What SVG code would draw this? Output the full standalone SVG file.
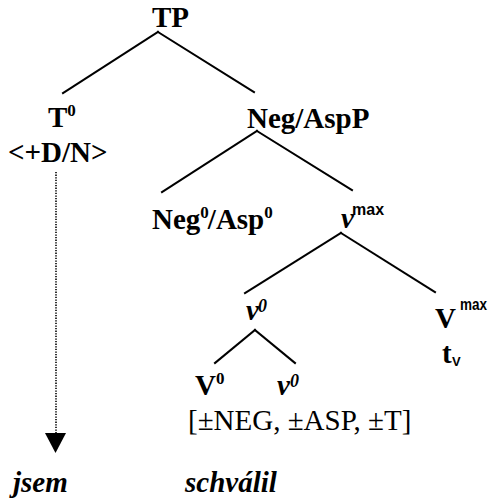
<svg xmlns="http://www.w3.org/2000/svg" width="492" height="502" viewBox="0 0 492 502">
  <style>
    .t { font-family: 'Liberation Serif', 'DejaVu Serif', 'Times New Roman', Times, serif; fill: #000; }
    .b { font-weight: bold; font-size: 29px; }
    .bi { font-weight: bold; font-style: italic; font-size: 29px; }
    .r { font-size: 29px; font-weight: normal; }
    .sup { font-weight: bold; font-size: 17px; }
    .supi { font-weight: bold; font-style: italic; font-size: 18px; }
    .max { font-family: 'Liberation Sans', Arial, sans-serif; font-weight: bold; font-size: 16px; }
    .edge { stroke: #000; stroke-width: 2; fill: none; stroke-linecap: square; }
    .dot { stroke: #000; stroke-width: 1.6; stroke-dasharray: 1.3 1.3; fill: none; }
  </style>

  <g id="connectors">
    <line class="edge" x1="158" y1="32" x2="63" y2="93"/>
    <line class="edge" x1="158" y1="32" x2="254" y2="92"/>
    <line class="edge" x1="257" y1="131" x2="162" y2="192"/>
    <line class="edge" x1="257" y1="131" x2="352" y2="190"/>
    <line class="edge" x1="341" y1="233" x2="245" y2="293"/>
    <line class="edge" x1="341" y1="233" x2="435" y2="292"/>
    <line class="edge" x1="255" y1="330" x2="215" y2="363"/>
    <line class="edge" x1="255" y1="330" x2="295" y2="363"/>
    <line class="dot" x1="56" y1="172" x2="56" y2="434"/>
    <polygon points="45,433 66,433 55.5,453" fill="#000"/>
  </g>

  <g id="TP"><text class="t b" x="152" y="27">TP</text></g>

  <g id="T0">
    <text class="t b" x="48" y="127">T<tspan class="sup" dy="-11">0</tspan></text>
    <text class="t b" x="8" y="162">&lt;+D/N&gt;</text>
  </g>

  <g id="NegAspP"><text class="t b" x="247" y="128">Neg/AspP</text></g>

  <g id="Neg0Asp0">
    <text class="t b" x="152" y="229">Neg<tspan class="sup" dy="-11">0</tspan><tspan dy="11" dx="-1">/Asp</tspan><tspan class="sup" dy="-11">0</tspan></text>
  </g>

  <g id="vmax">
    <text class="t bi" x="341" y="228">v</text>
    <text class="t max" x="352" y="215">max</text>
  </g>

  <g id="v0-top">
    <text class="t bi" x="246" y="320">v</text>
    <text class="t supi" x="258" y="312">0</text>
  </g>

  <g id="Vmax">
    <text class="t b" x="435" y="328">V</text>
    <text class="t max" x="460" y="310" textLength="27" lengthAdjust="spacingAndGlyphs">max</text>
    <text class="t b" x="442" y="363">t</text>
    <text class="t max" x="452" y="366" style="font-size:13px">V</text>
  </g>

  <g id="V0">
    <text class="t b" x="195" y="395">V<tspan class="sup" dy="-11">0</tspan></text>
  </g>

  <g id="v0-low">
    <text class="t bi" x="277" y="395">v</text>
    <text class="t supi" x="290" y="387">0</text>
  </g>

  <g id="features"><text class="t r" x="188" y="430">[±NEG, ±ASP, ±T]</text></g>

  <g id="jsem"><text class="t bi" x="13" y="492">jsem</text></g>
  <g id="schvalil"><text class="t bi" x="185" y="492">schválil</text></g>
</svg>
